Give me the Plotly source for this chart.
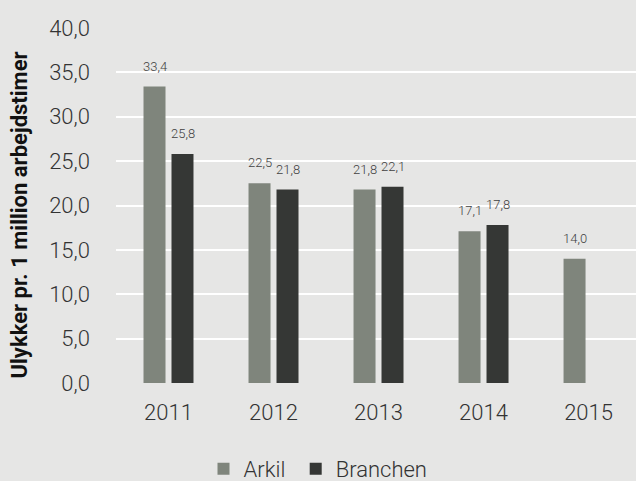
import plotly.graph_objects as go

years = ["2011", "2012", "2013", "2014", "2015"]
arkil = [33.4, 22.5, 21.8, 17.1, 14.0]
branchen = [25.8, 21.8, 22.1, 17.8, None]
y_ticks = [0, 5, 10, 15, 20, 25, 30, 35, 40]
y_title = "Ulykker pr. 1 million arbejdstimer"

bg = "#e6e6e5"
c_arkil = "#7f857c"
c_branchen = "#353735"
font_light = "Roboto Light, Roboto"

fig = go.Figure()
fig.add_trace(go.Bar(name="Arkil\u00a0", x=years, y=arkil, marker=dict(color=c_arkil, line=dict(width=0))))
fig.add_trace(go.Bar(name="Branchen", x=years, y=branchen, marker=dict(color=c_branchen, line=dict(width=0))))

def fmt(v):
    return f"{v:.1f}".replace(".", ",")

annotations = []
for series, shift in ((arkil, -13.5), (branchen, 14)):
    for i, v in enumerate(series):
        if v is None:
            continue
        annotations.append(dict(x=i, y=v, xref="x", yref="y", text=fmt(v), showarrow=False,
                                xshift=shift, yshift=11, yanchor="bottom", xanchor="center",
                                font=dict(family=font_light, size=13, color="#404040")))

annotations.append(dict(x=0, y=0.5, xref="paper", yref="paper", text=y_title, showarrow=False,
                        textangle=-90, xanchor="center", yanchor="middle", xshift=-97, yshift=-10,
                        font=dict(family="Roboto", size=22, color="#111111", weight="bold")))

fig.update_layout(
    width=636, height=481,
    paper_bgcolor=bg, plot_bgcolor=bg,
    margin=dict(l=116, r=0, t=28, b=98),
    separators=",.",
    barmode="group", bargap=0.467, bargroupgap=0.214,
    font=dict(family=font_light, color="#333333"),
    showlegend=True,
    legend=dict(orientation="h", x=0.5, xanchor="center", xref="container",
                y=0.025, yanchor="middle", yref="container",
                font=dict(size=22, family=font_light, color="#333333"),
                itemwidth=30, tracegroupgap=0),
    annotations=annotations,
)
fig.update_xaxes(type="category", range=[-0.5, 4.452], showgrid=False, zeroline=False,
                 showline=False, ticks="", tickfont=dict(size=22, color="#333333"),
                 ticklabelstandoff=14)
fig.update_yaxes(range=[0, 40], tickvals=y_ticks, tickformat=".1f", showgrid=True,
                 gridcolor="#ffffff", gridwidth=2, zeroline=False, showline=False, ticks="",
                 tickfont=dict(size=22, color="#333333"), ticklabelstandoff=25)

fig.write_html("out.html", config={"displayModeBar": False},
               post_script="document.body.style.margin='0';document.body.style.overflow='hidden';")
